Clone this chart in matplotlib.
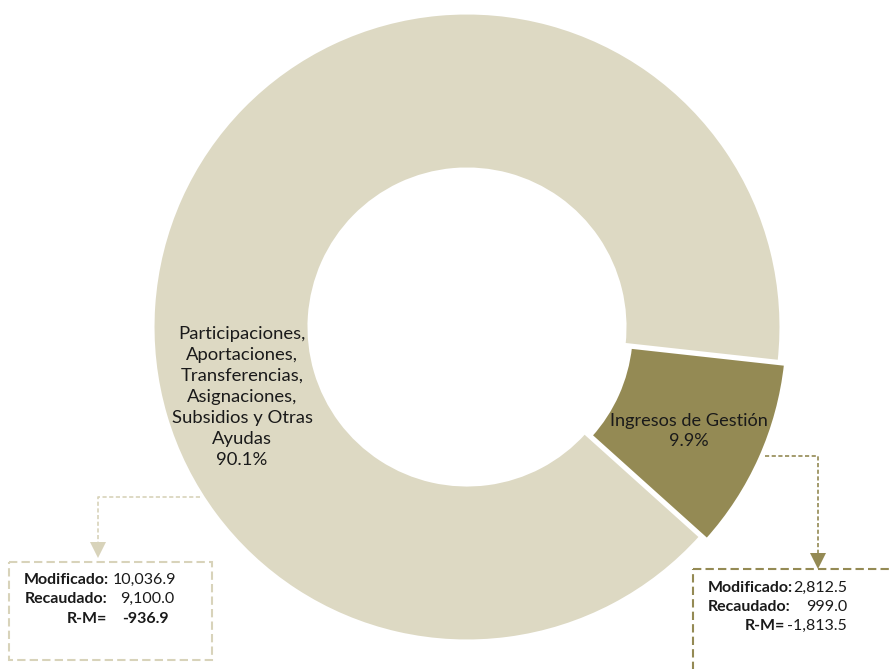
import matplotlib
matplotlib.use("Agg")
import matplotlib.pyplot as plt
from matplotlib.patches import Rectangle

plt.rcParams['font.family'] = ['Lato', 'DejaVu Sans']

# ---- data ----
categories = ["Participaciones,\nAportaciones,\nTransferencias,\nAsignaciones,\nSubsidios y Otras\nAyudas",
              "Ingresos de Gestión"]
percentages = [90.1, 9.9]
modificado = [10036.9, 2812.5]
recaudado = [9100.0, 999.0]
r_m = [-936.9, -1813.5]

colors = ["#DDD9C3", "#948A54"]
box_colors = ["#D8D3BA", "#948A54"]
text_color = "#1A1A1A"

W, H = 890, 669
fig = plt.figure(figsize=(W / 100, H / 100), dpi=100)
ax = fig.add_axes([0, 0, 1, 1])

cx, cy, R, r_in = 467, 327, 314, 158
# draw Gestión first starting just below horizontal (y axis inverted -> angles flip)
order = [1, 0]
wedges, _ = ax.pie([percentages[i] for i in order],
                   colors=[colors[i] for i in order],
                   startangle=6.3, counterclock=True,
                   radius=R, center=(cx, cy),
                   explode=[7, 0],
                   wedgeprops=dict(width=R - r_in, edgecolor="white", linewidth=2.2))
ax.set_xlim(0, W)
ax.set_ylim(H, 0)
ax.set_aspect('equal')
ax.axis('off')

# slice labels
ax.text(242, 397, f"{categories[0]}\n{percentages[0]:.1f}%", ha='center', va='center',
        fontsize=13.3, color=text_color, linespacing=1.38)
ax.text(689, 431, f"{categories[1]}\n{percentages[1]:.1f}%", ha='center', va='center',
        fontsize=13.1, color=text_color, linespacing=1.38)

def fmt(v):
    return f"{v:,.1f}"

# ---- left callout ----
c = box_colors[0]
ax.plot([200, 98, 98], [497, 497, 547], color=c, lw=1.2, ls=(0, (2.5, 1.5)))
ax.plot([98], [550], marker='v', markersize=11, color=c, markeredgewidth=0)
ax.add_patch(Rectangle((9, 562), 203, 98, fill=False, edgecolor=c, lw=1.5, ls=(0, (4, 2))))
fs = 11.5
ax.text(24, 584, "Modificado:", ha='left', va='baseline', fontsize=fs, weight='bold', color=text_color)
ax.text(176, 584, fmt(modificado[0]), ha='right', va='baseline', fontsize=fs, color=text_color)
ax.text(107, 603, "Recaudado:", ha='right', va='baseline', fontsize=fs, weight='bold', color=text_color)
ax.text(174, 603, fmt(recaudado[0]), ha='right', va='baseline', fontsize=fs, color=text_color)
ax.text(107, 623, "R-M=", ha='right', va='baseline', fontsize=fs, weight='bold', color=text_color)
ax.text(169, 623, fmt(r_m[0]), ha='right', va='baseline', fontsize=fs, weight='bold', color=text_color)

# ---- right callout ----
c = box_colors[1]
ax.plot([765, 818, 818], [456, 456, 558], color=c, lw=1.2, ls=(0, (2.5, 1.5)))
ax.plot([818], [561], marker='v', markersize=11, color=c, markeredgewidth=0)
ax.add_patch(Rectangle((693, 569), 260, 160, fill=False, edgecolor=c, lw=1.5, ls=(0, (4, 2)),
                       clip_on=True))
ax.text(708, 592, "Modificado:", ha='left', va='baseline', fontsize=fs, weight='bold', color=text_color)
ax.text(847, 592, fmt(modificado[1]), ha='right', va='baseline', fontsize=fs, color=text_color)
ax.text(708, 611, "Recaudado:", ha='left', va='baseline', fontsize=fs, weight='bold', color=text_color)
ax.text(847, 611, fmt(recaudado[1]), ha='right', va='baseline', fontsize=fs, color=text_color)
ax.text(785, 630, "R-M=", ha='right', va='baseline', fontsize=fs, weight='bold', color=text_color)
ax.text(847, 630, fmt(r_m[1]), ha='right', va='baseline', fontsize=fs, color=text_color)

fig.savefig("out.png", dpi=100)
